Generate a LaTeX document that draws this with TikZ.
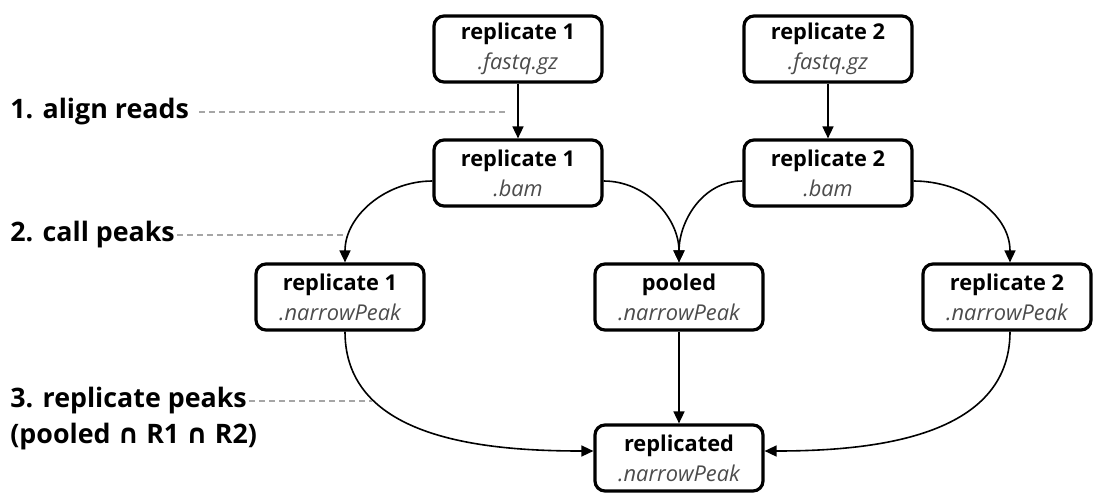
\documentclass[tikz,border=0pt]{standalone}
\usepackage{fontspec}
\setmainfont{Open Sans}
\newfontfamily\capfont{DejaVu Sans}
\usepackage{tikz}
\usetikzlibrary{arrows.meta, positioning}

\begin{document}
\begin{tikzpicture}[x=0.5pt, y=-0.5pt,
    file/.style={draw, line width=1.6pt, rounded corners=5pt, fill=white,
      minimum width=84pt, minimum height=33pt, align=center, inner sep=2pt,
      font=\fontsize{10.9}{15}\selectfont},
    flow/.style={line width=0.8pt, -{Triangle[length=6pt, width=5.5pt]}},
    steplabel/.style={anchor=west, inner sep=0pt, font=\fontsize{13.4}{16}\bfseries\selectfont},
    guide/.style={dashed, gray!70, line width=0.6pt, dash pattern=on 3pt off 2pt}]
  \useasboundingbox (0,0) rectangle (1093,494);

  \node[file] (fq1) at (518,49) {\textbf{replicate 1}\\ \textcolor{black!70}{\itshape .fastq.gz}};
  \node[file] (fq2) at (828,49) {\textbf{replicate 2}\\ \textcolor{black!70}{\itshape .fastq.gz}};
  \node[file] (bam1) at (518,173) {\textbf{replicate 1}\\ \textcolor{black!70}{\itshape .bam}};
  \node[file] (bam2) at (828,173) {\textbf{replicate 2}\\ \textcolor{black!70}{\itshape .bam}};
  \node[file] (np1) at (340,297) {\textbf{replicate 1}\\ \textcolor{black!70}{\itshape .narrowPeak}};
  \node[file] (pool) at (679,297) {\textbf{pooled}\\ \textcolor{black!70}{\itshape .narrowPeak}};
  \node[file] (np2) at (1007,297) {\textbf{replicate 2}\\ \textcolor{black!70}{\itshape .narrowPeak}};
  \node[file] (rep) at (679,458) {\textbf{replicated}\\ \textcolor{black!70}{\itshape .narrowPeak}};

  \draw[flow] (fq1) -- (bam1);
  \draw[flow] (fq2) -- (bam2);
  \draw[flow] ([yshift=-4pt]bam1.west) to[out=180, in=90] ([xshift=2.5pt]np1.north);
  \draw[flow] ([yshift=-4pt]bam1.east) to[out=0, in=90] (pool.north);
  \draw[flow] ([yshift=-4pt]bam2.west) to[out=180, in=90] (pool.north);
  \draw[flow] ([yshift=-4pt]bam2.east) to[out=0, in=90] ([xshift=1.5pt]np2.north);
  \draw[flow] (pool) -- (rep);
  \draw[flow] ([xshift=2.5pt]np1.south) to[out=-90, in=180] ([yshift=3.5pt]rep.west);
  \draw[flow] ([xshift=1.5pt]np2.south) to[out=-90, in=0] ([yshift=3.5pt]rep.east);

  \node[steplabel] (align) at (10,112) {1. align reads};
  \node[steplabel] (call) at (10,235) {2. call peaks};
  \node[steplabel] (repl) at (10,401) {3. replicate peaks};
  \node[steplabel, below=4pt of repl.south west, anchor=north west] (inter) {(pooled {\capfont ∩} R1 {\capfont ∩} R2)};

  \coordinate (alignend) at (508,112);
  \coordinate (callend) at (344,235);
  \coordinate (replend) at (372,401);
  \draw[guide] ([xshift=5pt]align.east) -- (alignend);
  \draw[guide] ([xshift=1pt]call.east) -- (callend);
  \draw[guide] ([xshift=1pt]repl.east) -- (replend);
\end{tikzpicture}
\end{document}
